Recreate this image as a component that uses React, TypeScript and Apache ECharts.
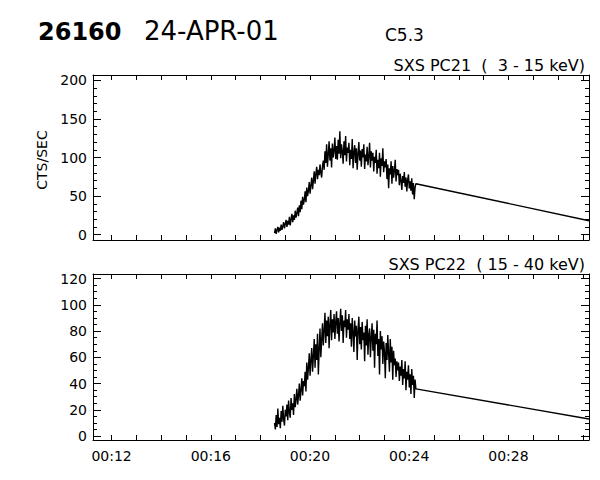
import React, { useEffect, useRef } from "react";
import * as echarts from "echarts";

const FONT = "DejaVu Sans";

// x axis: minutes after 00:00 UT
const xRange = [11.25, 31.25];
const xTickMinutes = [12, 13, 14, 15, 16, 17, 18, 19, 20, 21, 22, 23, 24, 25, 26, 27, 28, 29, 30, 31];
const xLabelMinutes = [12, 16, 20, 24, 28];

// y axes
const pc21Range = [-7, 207];
const pc21MajorTicks = [0, 50, 100, 150, 200];
const pc21MinorTicks = [10, 20, 30, 40, 60, 70, 80, 90, 110, 120, 130, 140, 160, 170, 180, 190];
const pc22Range = [-3, 123.5];
const pc22MajorTicks = [0, 20, 40, 60, 80, 100, 120];
const pc22MinorTicks = [5, 10, 15, 25, 30, 35, 45, 50, 55, 65, 70, 75, 85, 90, 95, 105, 110, 115];

// sampling of the light curves
const sampleStartMin = 18.57; // 00:18:34
const sampleStepMin = 1 / 30; // 2 s cadence

// SXS PC21 (3 - 15 keV) counts/s
const pc21Counts = [
  2, 8, 1, 6, 10, 3, 9, 5, 13, 6, 11, 16, 8, 14, 19,
  10, 18, 13, 23, 12, 20, 27, 16, 25, 19, 31, 22, 28, 35, 24,
  38, 29, 44, 33, 49, 39, 45, 56, 42, 61, 50, 57, 68, 53, 64,
  74, 59, 70, 82, 66, 79, 88, 72, 84, 77, 91, 80, 74, 89, 96,
  84, 108, 93, 117, 88, 104, 121, 96, 112, 87, 118, 100, 109, 126, 98,
  115, 97, 123, 105, 134, 99, 117, 108, 92, 121, 103, 128, 95, 113, 106,
  119, 90, 110, 98, 124, 86, 107, 116, 93, 112, 84, 105, 120, 96, 109,
  88, 111, 100, 117, 85, 104, 95, 114, 90, 102, 119, 87, 108, 96, 106,
  82, 101, 93, 110, 79, 97, 86, 106, 75, 99, 89, 112, 81, 95, 87,
  98, 72, 91, 60, 86, 78, 95, 66, 89, 74, 83, 97, 69, 85, 77,
  84, 64, 79, 70, 58, 76, 67, 81, 62, 74, 56, 71, 78, 60, 69,
  57, 73, 52, 67, 46, 61, 66,
];

// SXS PC22 (15 - 40 keV) counts/s
const pc22Counts = [
  10, 5, 16, 7, 21, 9, 14, 6, 19, 11, 23, 13, 8, 20, 15,
  24, 12, 27, 18, 14, 29, 20, 25, 16, 32, 22, 28, 36, 24, 31,
  40, 27, 35, 44, 31, 42, 38, 49, 34, 56, 43, 52, 63, 46, 58,
  67, 49, 61, 74, 52, 70, 58, 78, 47, 66, 82, 60, 73, 86, 69,
  80, 94, 71, 88, 76, 91, 67, 85, 96, 73, 89, 79, 93, 74, 87,
  95, 78, 90, 72, 86, 97, 80, 92, 71, 88, 83, 96, 75, 89, 81,
  93, 74, 86, 68, 90, 79, 64, 88, 76, 84, 58, 81, 91, 70, 83,
  66, 87, 73, 79, 57, 84, 69, 89, 62, 77, 82, 60, 75, 86, 65,
  81, 52, 78, 70, 88, 61, 74, 47, 80, 66, 76, 55, 72, 64, 44,
  71, 58, 77, 63, 49, 74, 56, 68, 43, 65, 54, 59, 45, 57, 50,
  56, 42, 53, 46, 58, 39, 51, 44, 57, 35, 49, 43, 54, 37, 47,
  32, 51, 39, 46, 29, 43, 36,
];

// straight segment after the data gap
const tailEndMin = 31.25;
const pc21TailEnd = 18;
const pc22TailEnd = 13;

const header = {
  id: "26160",
  date: "24-APR-01",
  goesClass: "C5.3",
};
const pc21Title = "SXS PC21  (  3 - 15 keV)";
const pc22Title = "SXS PC22  ( 15 - 40 keV)";
const yAxisTitle = "CTS/SEC";

function buildSeriesData(counts: number[], tailValue: number) {
  const d: number[][] = counts.map((v, i) => [sampleStartMin + i * sampleStepMin, v]);
  d.push([tailEndMin, tailValue]);
  return d;
}

const pad2 = (v: number) => (v < 10 ? "0" + v : "" + v);

function xAxes(gridIndex: number, withLabels: boolean) {
  const common = {
    gridIndex,
    type: "value",
    min: xRange[0],
    max: xRange[1],
    splitLine: { show: false },
    axisLine: { show: true, onZero: false, lineStyle: { color: "#000", width: 1 } },
    axisTick: {
      show: true,
      inside: true,
      length: 5,
      customValues: xTickMinutes,
      lineStyle: { color: "#000", width: 1 },
    },
  };
  return [
    {
      ...common,
      position: "bottom",
      axisLabel: withLabels
        ? {
            show: true,
            customValues: xLabelMinutes,
            formatter: (v: number) => "00:" + pad2(Math.round(v)),
            color: "#000",
            fontFamily: FONT,
            fontSize: 14,
            margin: 9,
          }
        : { show: false },
    },
    { ...common, position: "top", axisLabel: { show: false } },
  ];
}

function yAxes(gridIndex: number, range: number[], major: number[], minor: number[]) {
  const base = {
    gridIndex,
    type: "value",
    min: range[0],
    max: range[1],
    splitLine: { show: false },
  };
  const mk = (position: string, ticks: number[], len: number, labels: boolean, line: boolean) => ({
    ...base,
    position,
    axisLine: { show: line, onZero: false, lineStyle: { color: "#000", width: 1 } },
    axisTick: {
      show: true,
      inside: true,
      length: len,
      customValues: ticks,
      lineStyle: { color: "#000", width: 1 },
    },
    axisLabel: labels
      ? {
          show: true,
          customValues: major,
          color: "#000",
          fontFamily: FONT,
          fontSize: 14,
          margin: 6,
        }
      : { show: false },
  });
  return [
    mk("left", major, 8, true, true),
    mk("left", minor, 4, false, false),
    mk("right", major, 8, false, true),
    mk("right", minor, 4, false, false),
  ];
}

export default function App() {
  const ref = useRef<HTMLDivElement>(null);
  useEffect(() => {
    if (!ref.current) return;
    const chart = echarts.init(ref.current, undefined, { renderer: "svg" });
    const option: any = {
      animation: false,
      backgroundColor: "#ffffff",
      textStyle: { fontFamily: FONT, color: "#000" },
      grid: [
        { left: 93, top: 75, width: 496, height: 165, show: false },
        { left: 93, top: 274, width: 496, height: 166, show: false },
      ],
      xAxis: [...xAxes(0, false), ...xAxes(1, true)],
      yAxis: [
        ...yAxes(0, pc21Range, pc21MajorTicks, pc21MinorTicks),
        ...yAxes(1, pc22Range, pc22MajorTicks, pc22MinorTicks),
      ],
      series: [
        {
          type: "line",
          xAxisIndex: 0,
          yAxisIndex: 0,
          data: buildSeriesData(pc21Counts, pc21TailEnd),
          showSymbol: false,
          clip: true,
          lineStyle: { color: "#000", width: 1.4 },
        },
        {
          type: "line",
          xAxisIndex: 2,
          yAxisIndex: 4,
          data: buildSeriesData(pc22Counts, pc22TailEnd),
          showSymbol: false,
          clip: true,
          lineStyle: { color: "#000", width: 1.4 },
        },
      ],
      graphic: [
        {
          type: "text",
          left: 38,
          top: 20,
          style: { text: header.id, font: `bold 24px "${FONT}"`, fill: "#000" },
        },
        {
          type: "text",
          left: 144,
          top: 18,
          style: { text: header.date, font: `26px "${FONT}"`, fill: "#000" },
        },
        {
          type: "text",
          left: 385,
          top: 26,
          style: { text: header.goesClass, font: `17px "${FONT}"`, fill: "#000" },
        },
        {
          type: "text",
          right: 15,
          top: 57,
          style: { text: pc21Title, font: `16px "${FONT}"`, fill: "#000" },
        },
        {
          type: "text",
          right: 15,
          top: 256,
          style: { text: pc22Title, font: `16px "${FONT}"`, fill: "#000" },
        },
        {
          type: "text",
          x: 42,
          y: 160,
          rotation: Math.PI / 2,
          style: {
            text: yAxisTitle,
            font: `14px "${FONT}"`,
            fill: "#000",
            align: "center",
            verticalAlign: "middle",
          },
        },
      ],
    };
    chart.setOption(option);
    return () => chart.dispose();
  }, []);
  return (
    <div
      ref={ref}
      style={{ position: "absolute", left: 0, top: 0, width: 600, height: 480, background: "#fff" }}
    />
  );
}
